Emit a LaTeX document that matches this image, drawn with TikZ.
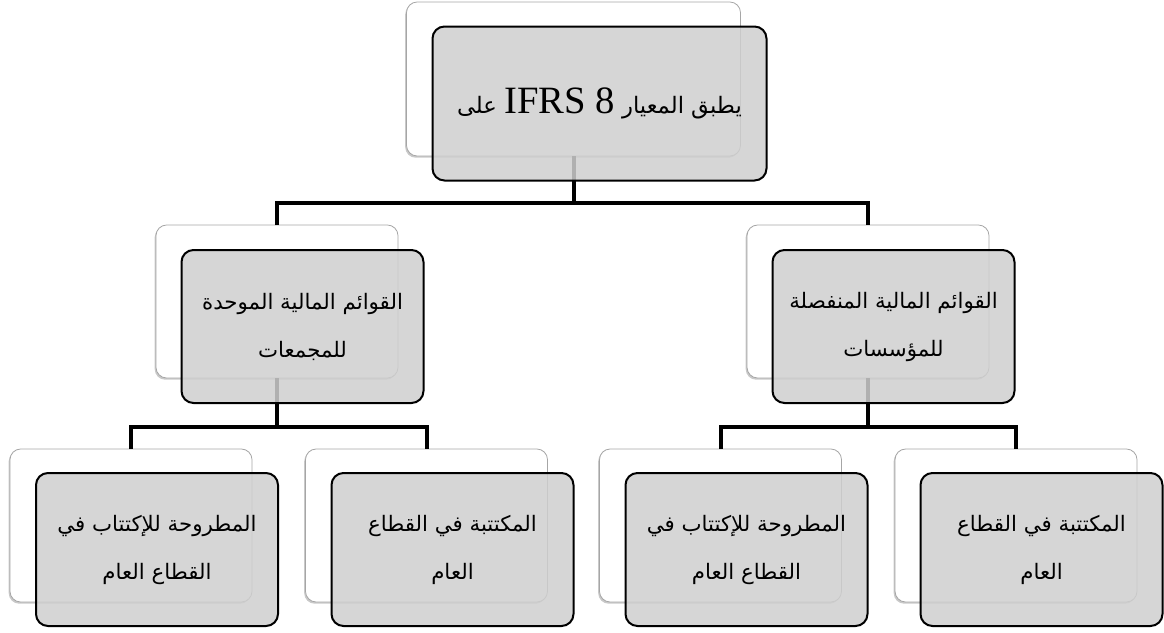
\documentclass[tikz,border=0pt]{standalone}
\usepackage{fontspec}
\setmainfont{Liberation Serif}
\newfontfamily\arabicfont[Script=Arabic]{DejaVu Sans}
\TeXXeTstate=1
\usetikzlibrary{shadows}

\newcommand{\ar}[1]{\beginR #1\endR}

\begin{document}
\begin{tikzpicture}[x=0.75pt,y=-0.75pt,
  backbox/.style={draw=black!35, line width=0.6pt, fill=white,
    rounded corners=8pt, inner sep=0pt, outer sep=0pt,
    drop shadow={shadow xshift=-1pt, shadow yshift=-1.3pt, opacity=0.3, fill=black!70}},
  frontbox/.style={draw=black, line width=1.5pt, fill=black!19,
    fill opacity=0.85, text opacity=1, rounded corners=9pt,
    inner sep=0pt, outer sep=0pt, align=center,
    font=\arabicfont\fontsize{16}{36}\selectfont},
  bigbox/.style={minimum width=250.5pt, minimum height=115.5pt},
  smallbox/.style={minimum width=181.5pt, minimum height=114.75pt},
  conn/.style={line width=3pt}]

\useasboundingbox (0,0) rectangle (1164,632);

% rear boxes
\node[backbox,bigbox]   (topB) at (573.5,79)  {};
\node[backbox,smallbox] (lmB)  at (277,301.5) {};
\node[backbox,smallbox] (rmB)  at (868,301.5) {};
\node[backbox,smallbox] (l1B)  at (131,525.5) {};
\node[backbox,smallbox] (l2B)  at (426.5,525.5) {};
\node[backbox,smallbox] (r1B)  at (720.5,525.5) {};
\node[backbox,smallbox] (r2B)  at (1016,525.5) {};

% connectors
\draw[conn] (lmB.north) -- ++(0,-22) coordinate (h1) -| (rmB.north);
\draw[conn] (topB.south) -- (topB.south |- h1);
\draw[conn] (l1B.north) -- ++(0,-22) coordinate (h2) -| (l2B.north);
\draw[conn] (lmB.south) -- (lmB.south |- h2);
\draw[conn] (r1B.north) -- ++(0,-22) coordinate (h3) -| (r2B.north);
\draw[conn] (rmB.south) -- (rmB.south |- h3);

% front boxes with the labels
\node[frontbox,bigbox,font=\arabicfont\fontsize{17}{36}\selectfont] (topF) at (599.5,103.5)
  {\beginR يطبق المعيار \beginL{\rmfamily\fontsize{29}{36}\selectfont IFRS 8}\endL{} على\endR};
\node[frontbox,smallbox] (lmF) at (302.5,326.5)
  {\ar{القوائم المالية الموحدة}\\\ar{للمجمعات}};
\node[frontbox,smallbox] (rmF) at (893.5,326.5)
  {\ar{القوائم المالية المنفصلة}\\\ar{للمؤسسات}};
\node[frontbox,smallbox] (l1F) at (157,549.5)
  {\ar{المطروحة للإكتتاب في}\\\ar{القطاع العام}};
\node[frontbox,smallbox] (l2F) at (452.5,549.5)
  {\ar{المكتتبة في القطاع}\\\ar{العام}};
\node[frontbox,smallbox] (r1F) at (746.5,549.5)
  {\ar{المطروحة للإكتتاب في}\\\ar{القطاع العام}};
\node[frontbox,smallbox] (r2F) at (1041.5,549.5)
  {\ar{المكتتبة في القطاع}\\\ar{العام}};
\end{tikzpicture}
\end{document}
